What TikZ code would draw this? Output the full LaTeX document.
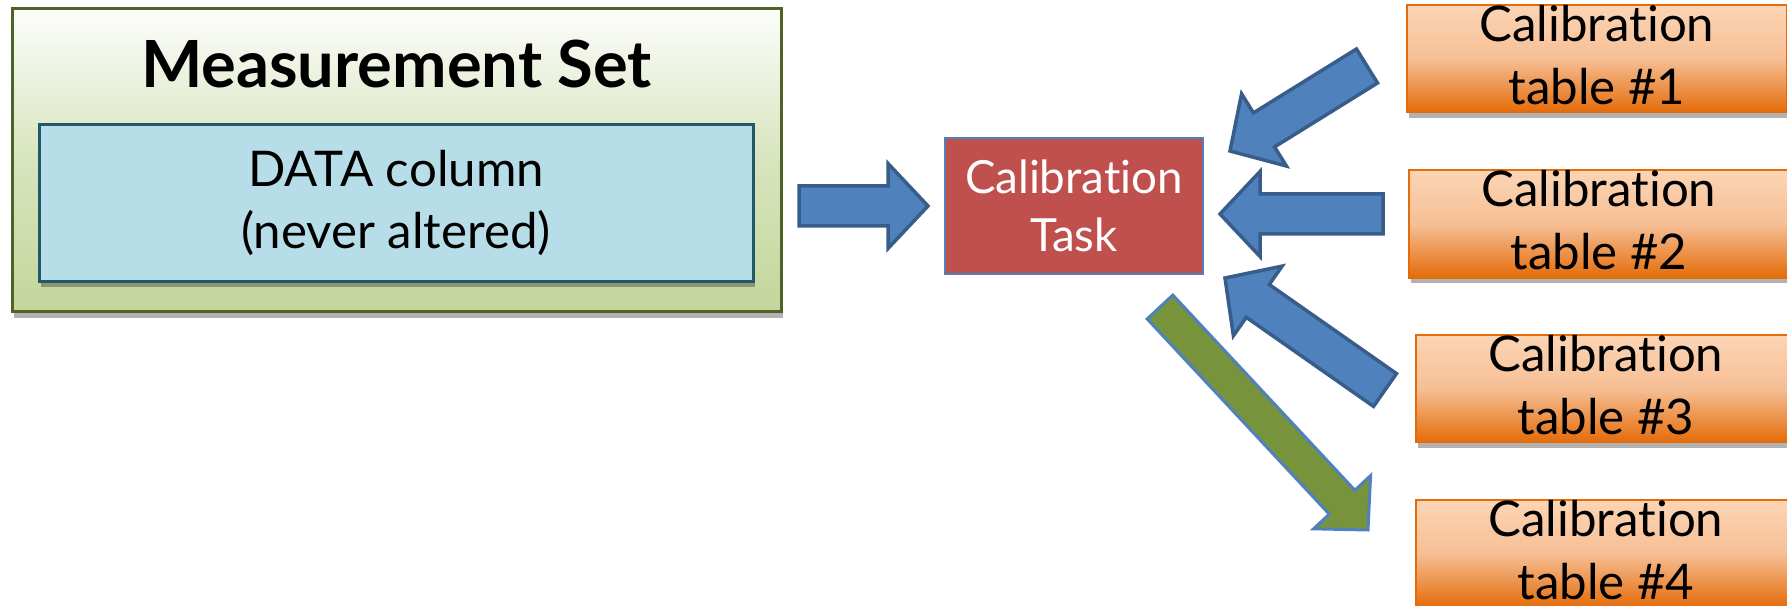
\documentclass[tikz,border=0pt]{standalone}
\usepackage{fontspec}
\setmainfont{Lato}[Ligatures=NoCommon]
\usetikzlibrary{calc,shadows,positioning}
\definecolor{msgreen}{HTML}{C3D69B}
\definecolor{msborder}{HTML}{4F6228}
\definecolor{datablue}{HTML}{B7DEE8}
\definecolor{databorder}{HTML}{215968}
\definecolor{taskred}{HTML}{C0504D}
\definecolor{arrowblue}{HTML}{4F81BD}
\definecolor{arrowborder}{HTML}{385D8A}
\definecolor{outgreen}{HTML}{77933C}
\definecolor{tablelight}{HTML}{FCD5B5}
\definecolor{tablemid}{HTML}{F6BF95}
\definecolor{tableorange}{HTML}{E46C0A}
\tikzset{
	softshadow/.style={drop shadow={shadow xshift=0.6pt,shadow yshift=-1.6pt,opacity=0.3,fill=black}},
	box/.style={rectangle,inner sep=0pt,outer sep=0pt,align=center},
	msbox/.style={box,draw=msborder,line width=0.3mm,top color=msgreen!5,bottom color=msgreen,middle color=msgreen!65,softshadow,minimum width=76.9mm,minimum height=30.3mm},
	databox/.style={box,draw=databorder,line width=0.3mm,fill=datablue,softshadow,minimum width=71.4mm,minimum height=15.7mm,font=\fontsize{14pt}{17.5pt}\selectfont},
	taskbox/.style={box,draw=arrowblue,line width=0.15mm,fill=taskred,text=white,minimum width=25.8mm,minimum height=13.6mm,font=\fontsize{13pt}{16.5pt}\selectfont},
	tablebox/.style={box,draw=tableorange,line width=0.2mm,top color=tablelight,bottom color=tableorange,middle color=tablemid,softshadow,minimum width=38mm,minimum height=10.5mm,text depth=2.2pt,font=\fontsize{14pt}{18pt}\selectfont},
	bluearrow/.style={draw=arrowborder,fill=arrowblue,line width=0.35mm},
	greenarrow/.style={draw=arrowblue,fill=outgreen,line width=0.3mm}
}
% style, tail, tip, shaft half width, head half width, head length
\newcommand{\blockarrow}[6]{%
	\coordinate (ba-h) at ($(#3)!#6!(#2)$);
	\draw[#1] ($(#2)!#4!90:(#3)$) -- ($(ba-h)!#4!90:(#3)$) -- ($(ba-h)!#5!90:(#3)$) -- (#3)
		-- ($(ba-h)!#5!-90:(#3)$) -- ($(ba-h)!#4!-90:(#3)$) -- ($(#2)!#4!-90:(#3)$) -- cycle;}
\begin{document}
\begin{tikzpicture}[x=0.1mm,y=-0.1mm]
	\useasboundingbox (0,0) rectangle (1787,606);
	\clip (0,0) rectangle (1787,606);
	\node[msbox] (ms) at (396.5,160.5) {};
	\node[font=\fontsize{18.5pt}{22pt}\selectfont\bfseries] (mstitle) at (396.5,64) {Measurement Set};
	\node[databox] (data) at (396,203) {DATA column\\(never altered)};
	\node[taskbox] (task) at (1074,206) {Calibration\\Task};
	\foreach \i/\x/\y in {1/1597/58.5,2/1599/224,3/1606/388.5,4/1606/553.5}
		\node[tablebox] (tab\i) at (\x,\y) {Calibration\\table \#\i};
	\coordinate (intail) at (799,206);
	\coordinate (intip) at (928,206);
	\coordinate (t1tail) at (1367,66);
	\coordinate (t1tip) at (1230,151);
	\coordinate (t2tail) at (1383,214);
	\coordinate (t2tip) at (1220,214);
	\coordinate (t3tail) at (1385,390);
	\coordinate (t3tip) at (1225,278);
	\coordinate (outtail) at (1160,307);
	\coordinate (outtip) at (1368,530);
	\blockarrow{bluearrow}{intail}{intip}{2mm}{4.25mm}{4mm}
	\foreach \t in {t1,t2,t3}{
		\blockarrow{bluearrow}{\t tail}{\t tip}{2mm}{4.25mm}{4mm}}
	\blockarrow{greenarrow}{outtail}{outtip}{1.75mm}{3.9mm}{3.8mm}
\end{tikzpicture}
\end{document}
